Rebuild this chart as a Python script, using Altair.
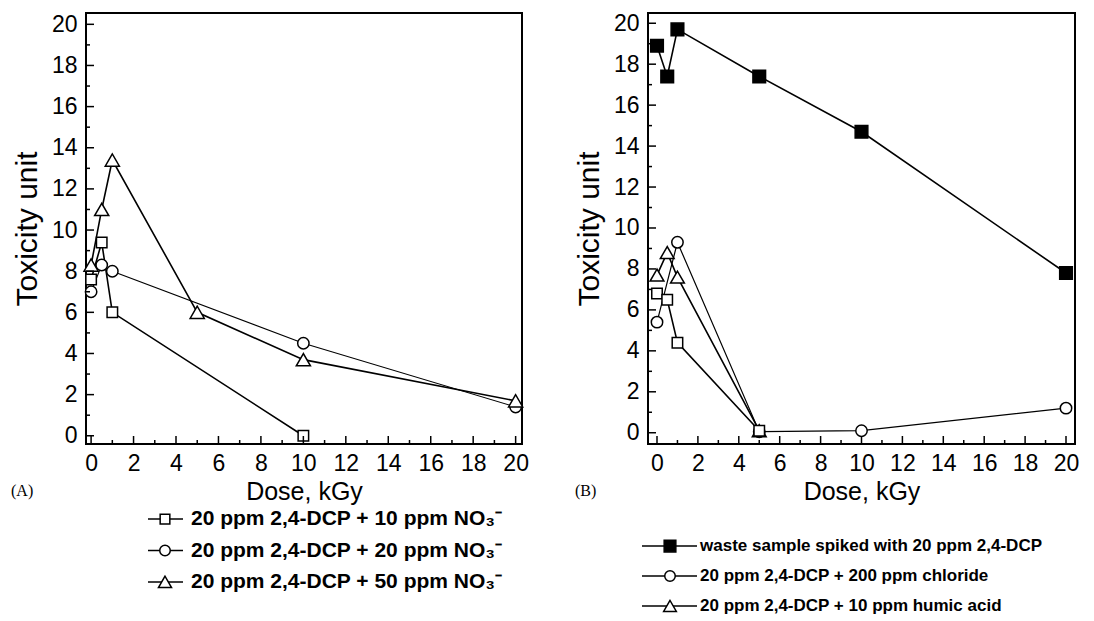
import altair as alt
import pandas as pd

FONT = "Liberation Sans"

# ---------------- Panel A data ----------------
a_names = ["10ppm", "20ppm", "50ppm"]
a_labels = ["20 ppm 2,4-DCP + 10 ppm NO\u2083\u207b",
            "20 ppm 2,4-DCP + 20 ppm NO\u2083\u207b",
            "20 ppm 2,4-DCP + 50 ppm NO\u2083\u207b"]
a_dose_10 = [0, 0.5, 1, 10]
a_tox_10 = [7.6, 9.4, 6.0, 0.0]
a_dose_20 = [0, 0.5, 1, 10, 20]
a_tox_20 = [7.0, 8.3, 8.0, 4.5, 1.4]
a_dose_50 = [0, 0.5, 1, 5, 10, 20]
a_tox_50 = [8.3, 11.0, 13.4, 6.0, 3.7, 1.7]

# ---------------- Panel B data ----------------
b_names = ["waste", "chloride", "humic", "plain"]
b_labels = ["waste sample spiked with 20 ppm 2,4-DCP",
            "20 ppm 2,4-DCP + 200 ppm chloride",
            "20 ppm 2,4-DCP + 10 ppm humic acid"]
b_dose_waste = [0, 0.5, 1, 5, 10, 20]
b_tox_waste = [18.9, 17.4, 19.7, 17.4, 14.7, 7.8]
b_dose_chl = [0, 1, 5, 10, 20]
b_tox_chl = [5.4, 9.3, 0.05, 0.1, 1.2]
b_dose_hum = [0, 0.5, 1, 5]
b_tox_hum = [7.7, 8.8, 7.6, 0.1]
b_dose_plain = [0, 0.5, 1, 5]
b_tox_plain = [6.8, 6.5, 4.4, 0.1]

# axis ticks
x_major = [0, 2, 4, 6, 8, 10, 12, 14, 16, 18, 20]
x_minor = [1, 3, 5, 7, 9, 11, 13, 15, 17, 19]
y_major = [0, 2, 4, 6, 8, 10, 12, 14, 16, 18, 20]
y_minor = [1, 3, 5, 7, 9, 11, 13, 15, 17, 19]

H = 431
WA = 436
WB = 427

STYLE = {
    "10ppm": dict(shape="square", fill="white", size=110, sw=1.6),
    "20ppm": dict(shape="circle", fill="white", size=130, sw=1.1),
    "50ppm": dict(shape="triangle-up", fill="white", size=200, sw=1.6),
    "waste": dict(shape="square", fill="black", size=160, sw=1.6),
    "chloride": dict(shape="circle", fill="white", size=130, sw=1.2),
    "humic": dict(shape="triangle-up", fill="white", size=190, sw=1.6),
    "plain": dict(shape="square", fill="white", size=110, sw=1.6),
}


def panel(series, xdom, ydom, W, letter, letter_x):
    xs = alt.Scale(domain=xdom, nice=False, zero=False)
    ys = alt.Scale(domain=ydom, nice=False, zero=False)
    xaxis = alt.Axis(values=x_major, title="Dose, kGy", ticks=False, domain=False,
                     grid=False, labelFont=FONT, labelFontSize=23, labelColor="black",
                     labelPadding=8, titleFont=FONT, titleFontSize=25,
                     titleFontWeight="normal", titleColor="black", titlePadding=4,
                     format="d", labelFlush=False)
    yaxis = alt.Axis(values=y_major, title="Toxicity unit", ticks=False, domain=False,
                     grid=False, labelFont=FONT, labelFontSize=23, labelColor="black",
                     labelPadding=9, titleFont=FONT, titleFontSize=30,
                     titleFontWeight="normal", titleColor="black", titlePadding=9,
                     format="d", labelFlush=False)

    def X(f):
        return alt.X(f, scale=xs, axis=xaxis)

    def Y(f):
        return alt.Y(f, scale=ys, axis=yaxis)

    layers = []
    for name, dose, tox in series:
        st = STYLE[name]
        df = pd.DataFrame({"dose": dose, "tox": tox})
        layers.append(alt.Chart(df).mark_line(color="black", strokeWidth=st["sw"])
                      .encode(x=X("dose:Q"), y=Y("tox:Q")))
    for name, dose, tox in series:
        st = STYLE[name]
        df = pd.DataFrame({"dose": dose, "tox": tox})
        layers.append(alt.Chart(df).mark_point(shape=st["shape"], fill=st["fill"],
                                               stroke="black", strokeWidth=1.5,
                                               size=st["size"], opacity=1, filled=True)
                      .encode(x=X("dose:Q"), y=Y("tox:Q")))
    # inward ticks
    for vals, ln in ((y_major, 8), (y_minor, 4)):
        layers.append(alt.Chart(pd.DataFrame({"tox": vals})).mark_rule(color="black", strokeWidth=1.5)
                      .encode(y=Y("tox:Q"), x=alt.value(0), x2=alt.value(ln)))
    for vals, ln in ((x_major, 8), (x_minor, 4)):
        layers.append(alt.Chart(pd.DataFrame({"dose": vals})).mark_rule(color="black", strokeWidth=1.5)
                      .encode(x=X("dose:Q"), y=alt.value(H), y2=alt.value(H - ln)))
    # panel letter
    layers.append(alt.Chart(pd.DataFrame({"t": [letter]})).mark_text(
        font="Liberation Serif", fontSize=16, align="left", baseline="middle", color="black")
        .encode(text="t:N", x=alt.value(letter_x), y=alt.value(H + 47)))
    return alt.layer(*layers).properties(
        width=W, height=H, view=alt.ViewBackground(stroke="black", strokeWidth=2))


def legend(names, labels, W, h, fsize, xl0, xl1, xsym, xt, pad):
    y = alt.Y("series:N", sort=names, axis=None,
              scale=alt.Scale(type="point", domain=names, padding=pad))
    layers = []
    df = pd.DataFrame({"series": names, "label": labels})
    layers.append(alt.Chart(df).mark_rule(color="black", strokeWidth=1.5)
                  .encode(y=y, x=alt.value(xl0), x2=alt.value(xl1)))
    for n in names:
        st = STYLE[n]
        layers.append(alt.Chart(df[df.series == n]).mark_point(
            shape=st["shape"], fill=st["fill"], stroke="black", strokeWidth=1.5,
            size=st["size"] * 0.85, opacity=1, filled=True)
            .encode(y=y, x=alt.value(xsym)))
    layers.append(alt.Chart(df).mark_text(align="left", baseline="middle", font=FONT,
                                          fontWeight="bold", fontSize=fsize, color="black")
                  .encode(y=y, x=alt.value(xt), text="label:N"))
    return alt.layer(*layers).properties(width=W, height=h,
                                         view=alt.ViewBackground(stroke=None))


panelA = panel([("10ppm", a_dose_10, a_tox_10),
                ("20ppm", a_dose_20, a_tox_20),
                ("50ppm", a_dose_50, a_tox_50)],
               [-0.24, 20.3], [-0.4, 20.55], WA, "(A)", -75)
panelB = panel([("waste", b_dose_waste, b_tox_waste),
                ("chloride", b_dose_chl, b_tox_chl),
                ("humic", b_dose_hum, b_tox_hum),
                ("plain", b_dose_plain, b_tox_plain)],
               [-0.44, 20.44], [-0.55, 20.5], WB, "(B)", -73)

legA = legend(a_names, a_labels, WA, 91, 21, 62, 97, 79, 105, 0.45)
legB = legend(b_names[:3], b_labels, WB, 70, 17, -6, 49, 22, 52, 0.17)

chart = alt.hconcat(
    alt.vconcat(panelA, legA, spacing=-2),
    alt.vconcat(panelB, legB, spacing=32),
    spacing=43,
).properties(padding={"left": 2, "top": 3, "right": 0, "bottom": 0}).configure_view(stroke=None)

chart.save("out.html", embed_options={"renderer": "svg", "actions": False})
